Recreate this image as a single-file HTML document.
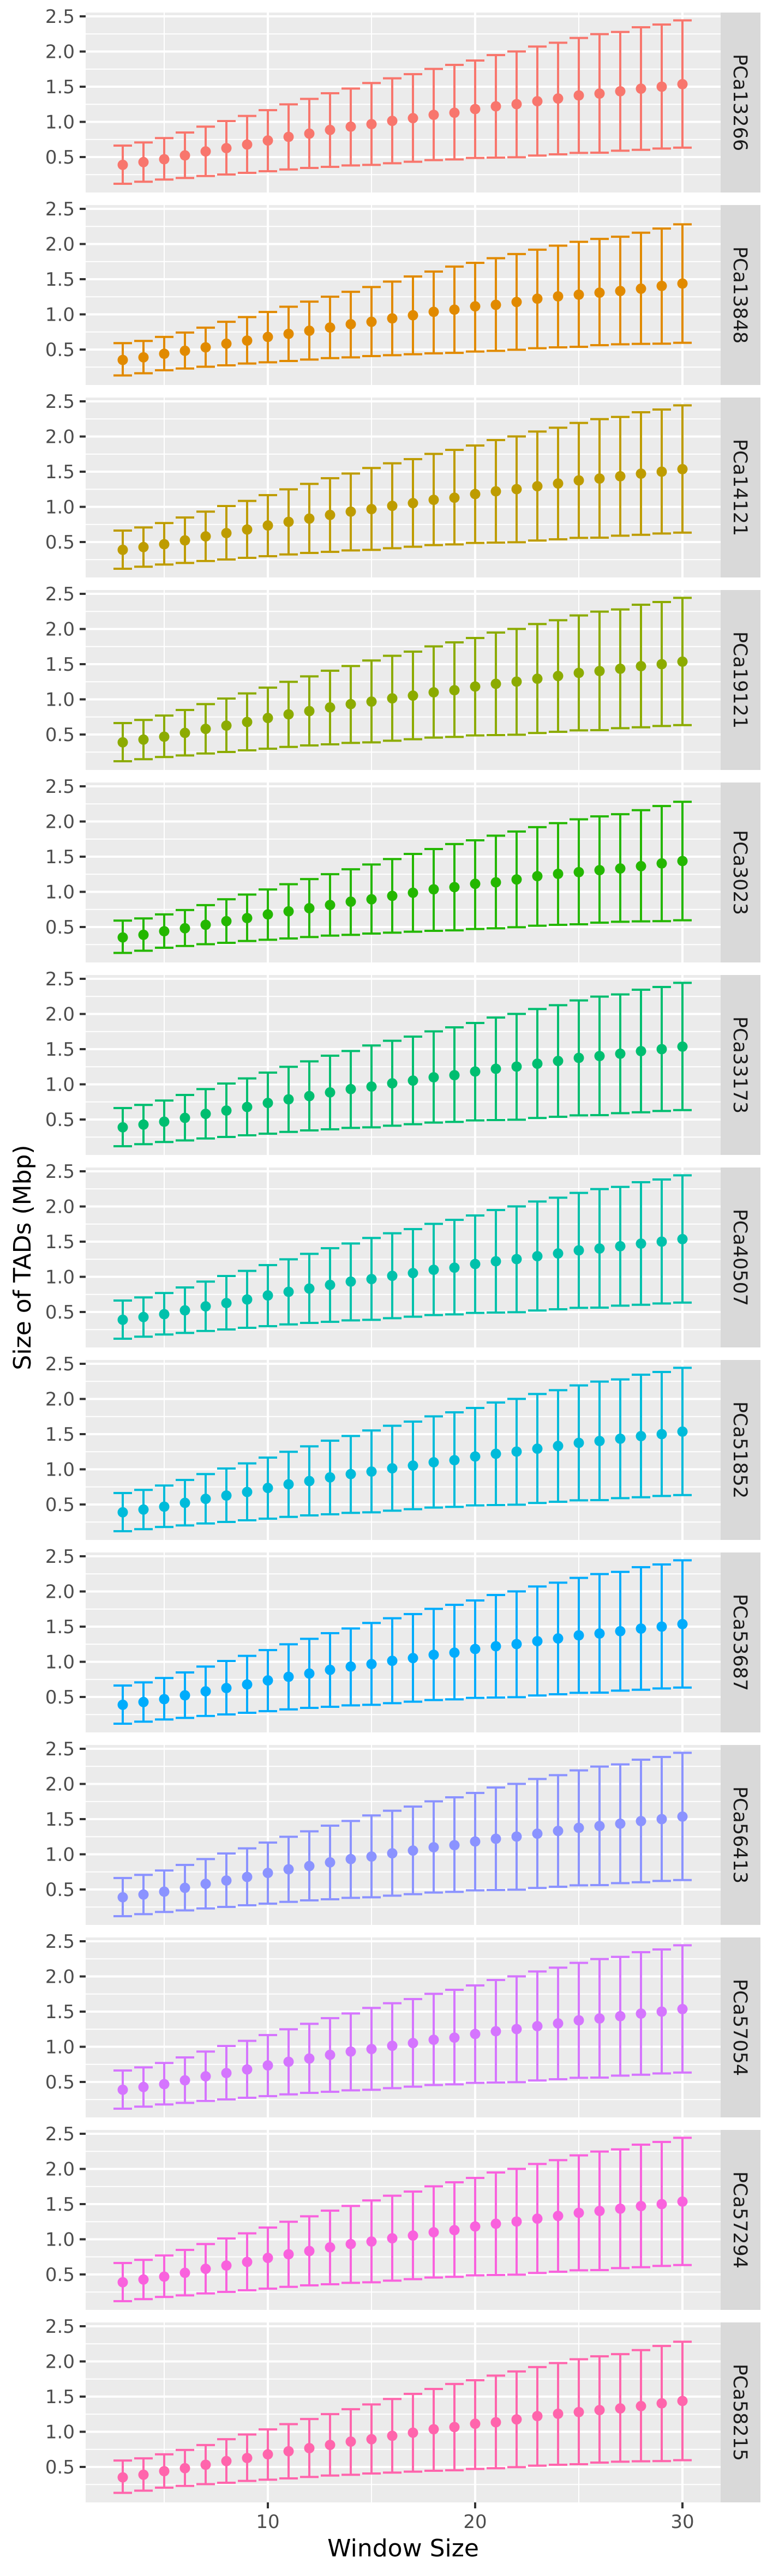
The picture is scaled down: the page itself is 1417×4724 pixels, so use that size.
<!DOCTYPE html>
<html><head><meta charset="utf-8">
<style>
html,body{margin:0;padding:0;background:#fff;}
svg{display:block;font-family:"DejaVu Sans","Liberation Sans",sans-serif;}
</style></head>
<body>
<svg id="chart" width="1417" height="4724" viewBox="0 0 1417 4724" xmlns="http://www.w3.org/2000/svg"></svg>
<script>
const windowSizes = [3,4,5,6,7,8,9,10,11,12,13,14,15,16,17,18,19,20,21,22,23,24,25,26,27,28,29,30];
const meanA = [0.389,0.428,0.469,0.523,0.580,0.627,0.678,0.735,0.787,0.833,0.885,0.932,0.968,1.014,1.053,1.100,1.130,1.182,1.221,1.252,1.293,1.332,1.376,1.402,1.435,1.472,1.500,1.536];
const upperA = [0.663,0.707,0.769,0.849,0.932,1.012,1.084,1.167,1.249,1.327,1.407,1.474,1.552,1.619,1.678,1.753,1.810,1.872,1.950,2.001,2.071,2.125,2.193,2.247,2.278,2.345,2.384,2.443];
const lowerA = [0.120,0.149,0.180,0.203,0.231,0.252,0.275,0.298,0.324,0.345,0.360,0.381,0.389,0.412,0.433,0.456,0.466,0.487,0.492,0.497,0.521,0.539,0.559,0.562,0.590,0.603,0.621,0.634];
const meanB = [0.352,0.389,0.440,0.482,0.531,0.583,0.627,0.679,0.723,0.767,0.813,0.860,0.894,0.943,0.987,1.036,1.067,1.114,1.135,1.176,1.223,1.256,1.280,1.308,1.332,1.365,1.404,1.438];
const upperB = [0.591,0.622,0.679,0.741,0.811,0.894,0.961,1.034,1.109,1.181,1.251,1.321,1.389,1.466,1.539,1.609,1.679,1.733,1.798,1.858,1.920,1.977,2.031,2.073,2.104,2.161,2.220,2.280];
const lowerB = [0.132,0.163,0.205,0.231,0.256,0.275,0.301,0.319,0.337,0.358,0.378,0.389,0.407,0.420,0.433,0.446,0.453,0.472,0.482,0.497,0.518,0.531,0.539,0.562,0.575,0.580,0.583,0.596];
const sampleNames = ["PCa13266","PCa13848","PCa14121","PCa19121","PCa3023","PCa33173","PCa40507","PCa51852","PCa53687","PCa56413","PCa57054","PCa57294","PCa58215"];
const sampleColors = ["#F8766D","#E18A00","#BE9C00","#8CAB00","#24B700","#00BE70","#00C1AB","#00BBDA","#00ACFC","#8B93FF","#D575FE","#F962DD","#FF65AC"];
const sampleMeans = [meanA,meanB,meanA,meanA,meanB,meanA,meanA,meanA,meanA,meanA,meanA,meanA,meanB];
const sampleUppers = [upperA,upperB,upperA,upperA,upperB,upperA,upperA,upperA,upperA,upperA,upperA,upperA,upperB];
const sampleLowers = [lowerA,lowerB,lowerA,lowerA,lowerB,lowerA,lowerA,lowerA,lowerA,lowerA,lowerA,lowerA,lowerB];
const yTicks = [0.5,1.0,1.5,2.0,2.5];
const yTickLabels = ["0.5","1.0","1.5","2.0","2.5"];
const yMinor = [0.25,0.75,1.25,1.75,2.25];
const xTicks = [10,20,30];
const xTickLabels = ["10","20","30"];
const xMinor = [5,15,25];

const NS = "http://www.w3.org/2000/svg";
const svg = document.getElementById("chart");
const PL = 157, PR = 1321, PANEL_TOP0 = 23, PANEL_H = 330, GAP = 23;
function xs(v){ return 491 + (v - 10) * 38.0; }
function ys(v, top){ return top + 265 - (v - 0.5) * 129; }
function mk(tag, attrs, parent){
  const e = document.createElementNS(NS, tag);
  for (const k in attrs) e.setAttribute(k, attrs[k]);
  (parent || svg).appendChild(e);
  return e;
}

sampleNames.forEach((name, p) => {
  const top = PANEL_TOP0 + p * (PANEL_H + GAP);
  const g = mk("g", {});
  
  
  const bg = mk("rect", {x:PL, y:top, width:PR-PL, height:PANEL_H, fill:"#EBEBEB"}, g);
  
  
  yMinor.forEach(v => { mk("line", {x1:PL, x2:PR, y1:ys(v,top), y2:ys(v,top), stroke:"#fff", "stroke-width":2}, g); });
  xMinor.forEach(v => { mk("line", {x1:xs(v), x2:xs(v), y1:top, y2:top+PANEL_H, stroke:"#fff", "stroke-width":2}, g); });
  yTicks.forEach(v => { mk("line", {x1:PL, x2:PR, y1:ys(v,top), y2:ys(v,top), stroke:"#fff", "stroke-width":4}, g); });
  xTicks.forEach(v => { mk("line", {x1:xs(v), x2:xs(v), y1:top, y2:top+PANEL_H, stroke:"#fff", "stroke-width":4}, g); });
  // y ticks
  yTicks.forEach((v, i) => {
    mk("line", {x1:146, x2:PL, y1:ys(v,top), y2:ys(v,top), stroke:"#333", "stroke-width":4}, g);
    const t = mk("text", {x:137, y:ys(v,top)+12, "text-anchor":"end", "font-size":34, fill:"#4D4D4D"}, g);
    
    
    t.textContent = yTickLabels[i];
  });
  // strip
  const strip = mk("rect", {x:PR, y:top, width:73, height:PANEL_H, fill:"#D9D9D9"}, g);
  
  
  const st = mk("text", {x:0, y:0, "text-anchor":"middle", "font-size":35, fill:"#1A1A1A", transform:`translate(${PR+24},${top+PANEL_H/2}) rotate(90)`}, g);
  
  
  st.textContent = name;
  // series
  const col = sampleColors[p];
  const means = sampleMeans[p], ups = sampleUppers[p], los = sampleLowers[p];
  windowSizes.forEach((w, i) => {
    const x = xs(w);
    const eb = mk("g", {stroke:col, "stroke-width":4}, g);
    
    
    mk("line", {x1:x, x2:x, y1:ys(ups[i],top), y2:ys(los[i],top)}, eb);
    mk("line", {x1:x-17, x2:x+17, y1:ys(ups[i],top), y2:ys(ups[i],top)}, eb);
    mk("line", {x1:x-17, x2:x+17, y1:ys(los[i],top), y2:ys(los[i],top)}, eb);
    const c = mk("circle", {cx:x, cy:ys(means[i],top), r:9.5, fill:col}, g);
    
    
  });
});

// x axis
const lastBottom = PANEL_TOP0 + 13*PANEL_H + 12*GAP;
xTicks.forEach((v, i) => {
  mk("line", {x1:xs(v), x2:xs(v), y1:lastBottom, y2:lastBottom+11, stroke:"#333", "stroke-width":4});
  const t = mk("text", {x:xs(v), y:lastBottom+47, "text-anchor":"middle", "font-size":34, fill:"#4D4D4D"});
  
  
  t.textContent = xTickLabels[i];
});
const xt = mk("text", {x:(PL+PR)/2, y:4688, "text-anchor":"middle", "font-size":44, fill:"#000"});


xt.textContent = "Window Size";
const yt = mk("text", {x:0, y:0, "text-anchor":"middle", "font-size":44, fill:"#000", transform:`translate(56,${(PANEL_TOP0+lastBottom)/2}) rotate(-90)`});


yt.textContent = "Size of TADs (Mbp)";
</script>
</body></html>
